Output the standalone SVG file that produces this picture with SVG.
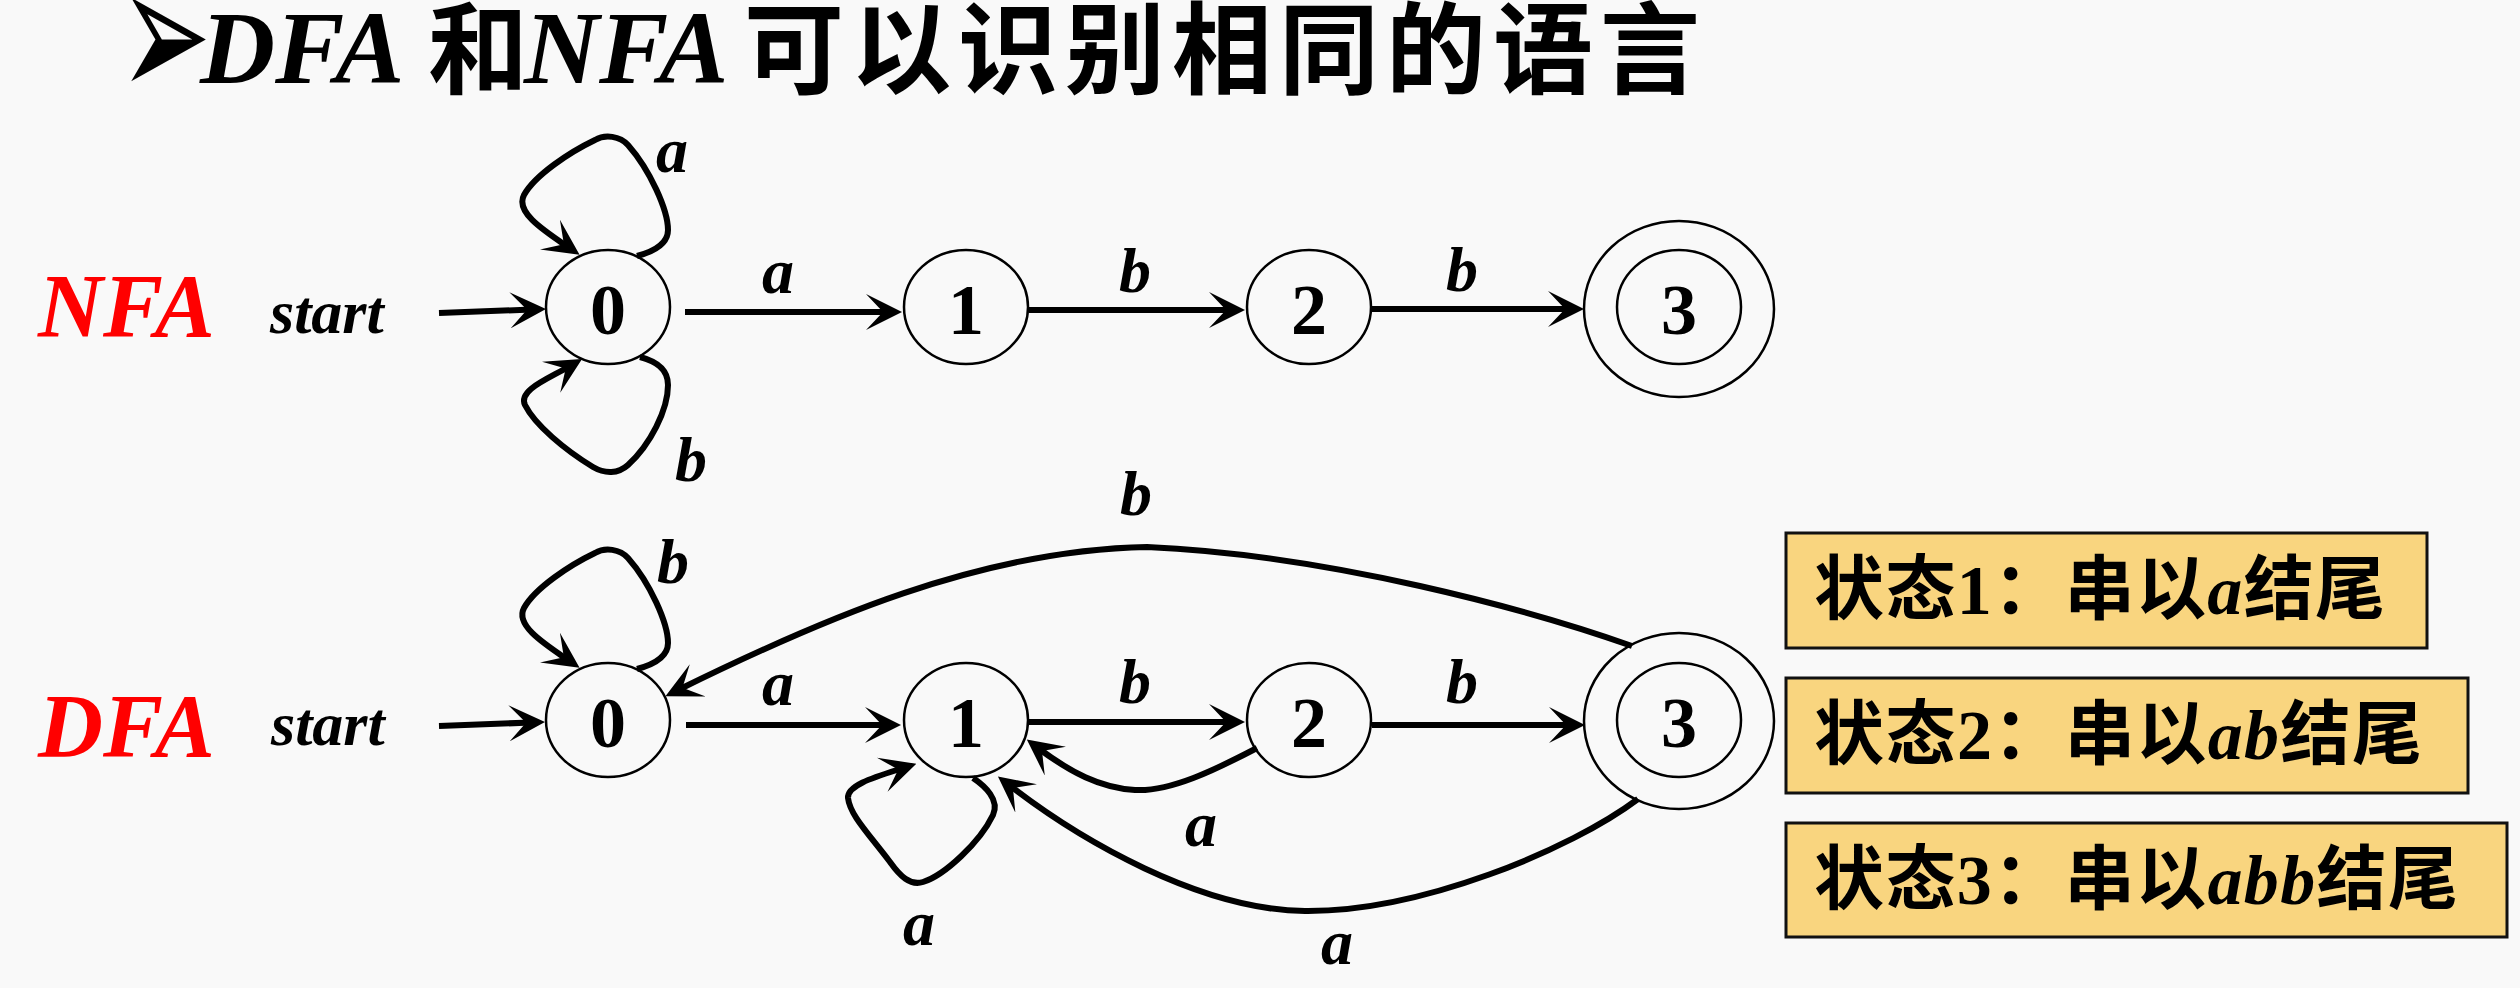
<svg xmlns="http://www.w3.org/2000/svg" width="2520" height="988" viewBox="0 0 2520 988">
<defs>
<marker id="ah" viewBox="0 0 36 36" markerWidth="36" markerHeight="36" refX="22" refY="18" orient="auto" markerUnits="userSpaceOnUse"><path d="M36,18 L0,0 L17,18 L0,36 Z" fill="#000"/></marker>
</defs>
<style>
.st{fill:none;stroke:#000;stroke-width:2.5}
.ed{fill:none;stroke:#000;stroke-width:6;marker-end:url(#ah)}
.lb{font-family:"Liberation Serif","Times New Roman",serif;font-style:italic;font-weight:bold;font-size:64px;text-anchor:middle;fill:#000}
.dg{font-family:"Liberation Serif","Times New Roman",serif;font-weight:bold;font-size:72px;text-anchor:middle;fill:#000}
.cj{font-family:"Noto Sans CJK SC",sans-serif;font-weight:bold}
.it{font-family:"Liberation Serif","Times New Roman",serif;font-style:italic;font-weight:bold}
.rm{font-family:"Liberation Serif","Times New Roman",serif;font-weight:bold}
.box{fill:#F9D57F;stroke:#111;stroke-width:3}
.red{fill:#FF0000;font-size:90px}
.start{font-size:62px;fill:#000}
.bt{font-size:70px;fill:#000}
.tt{fill:#000}
</style>
<rect x="0" y="0" width="2520" height="988" fill="#F9F9F9"/>

<g id="title">
<text class="tt" font-family="DejaVu Sans, sans-serif" font-size="100" transform="translate(119,99) scale(1.1,1.9)">➢</text>
<text class="tt it" x="200" y="83" font-size="104">DFA</text>
<text class="tt cj" x="428" y="86" font-size="100">和</text>
<text class="tt it" x="524" y="83" font-size="104">NFA</text>
<text class="tt cj" x="744" y="86" font-size="100" letter-spacing="7">可以识别相同的语言</text>
</g>

<g id="label-nfa"><text x="38" y="337" class="it red">NFA</text></g>
<g id="label-dfa"><text x="38" y="757" class="it red">DFA</text></g>
<g id="nfa-start"><text x="270" y="333" class="it start">start</text></g>
<g id="dfa-start"><text x="271" y="745" class="it start">start</text></g>

<g id="nfa-s0"><ellipse class="st" cx="608" cy="307" rx="62" ry="57"/><text class="dg" x="608" y="334">0</text></g>
<g id="nfa-s1"><ellipse class="st" cx="966" cy="307" rx="62" ry="57"/><text class="dg" x="966" y="334">1</text></g>
<g id="nfa-s2"><ellipse class="st" cx="1309" cy="307" rx="62" ry="57"/><text class="dg" x="1309" y="334">2</text></g>
<g id="nfa-s3"><ellipse class="st" cx="1679" cy="309" rx="95" ry="88"/><ellipse class="st" cx="1679" cy="307" rx="62" ry="57"/><text class="dg" x="1679" y="334">3</text></g>

<g id="dfa-s0"><ellipse class="st" cx="608" cy="720" rx="62" ry="57"/><text class="dg" x="608" y="747">0</text></g>
<g id="dfa-s1"><ellipse class="st" cx="966" cy="720" rx="62" ry="57"/><text class="dg" x="966" y="747">1</text></g>
<g id="dfa-s2"><ellipse class="st" cx="1309" cy="720" rx="62" ry="57"/><text class="dg" x="1309" y="747">2</text></g>
<g id="dfa-s3"><ellipse class="st" cx="1679" cy="721" rx="95" ry="88"/><ellipse class="st" cx="1679" cy="720" rx="62" ry="57"/><text class="dg" x="1679" y="747">3</text></g>

<g id="connectors">
<path class="ed" d="M439,313 L532,309.5"/>
<path class="ed" d="M685,312 L888,312"/>
<path class="ed" d="M1029,310 L1231,310"/>
<path class="ed" d="M1372,309 L1570,309"/>
<path class="ed" d="M637,256 C652,252 668,245 668,230 C668,210 650,170 628,145 C620,136 605,134 595,140 C570,152 535,175 524,195 C515,212 543,230 568,247"/>
<path class="ed" d="M640,357 C655,361 668,368 668,385 C668,410 650,445 628,465 C618,474 605,474 593,467 C565,450 535,425 525,405 C518,390 548,379 570,366"/>
<text class="lb" x="672" y="172">a</text>
<text class="lb" x="691" y="481">b</text>
<text class="lb" x="778" y="293">a</text>
<text class="lb" x="1135" y="292">b</text>
<text class="lb" x="1462" y="291">b</text>
<path class="ed" d="M439,726 L531,722.5"/>
<path class="ed" d="M686,725 L887,725"/>
<path class="ed" d="M1029,722 L1231,722"/>
<path class="ed" d="M1372,725 L1571,725"/>
<path class="ed" d="M637,669 C652,665 668,658 668,643 C668,623 650,583 628,558 C620,549 605,547 595,553 C570,565 535,588 524,608 C515,625 543,643 568,660"/>
<path class="ed" d="M973,778 C985,786 1000,800 993,815 C980,842 945,875 923,882 C910,886 900,876 890,862 C868,833 850,815 848,798 C847,785 875,777 903,768"/>
<path class="ed" d="M1257,748 C1215,770 1170,792 1135,790 C1100,788 1070,772 1038,748"/>
<path class="ed" d="M1638,799 C1570,850 1420,912 1305,911 C1200,910 1080,840 1009,785"/>
<path class="ed" d="M1632,646 C1530,610 1330,555 1147,547 C980,550 820,620 678,690"/>
<text class="lb" x="673" y="583">b</text>
<text class="lb" x="778" y="705">a</text>
<text class="lb" x="1135" y="703">b</text>
<text class="lb" x="1462" y="703">b</text>
<text class="lb" x="1136" y="515">b</text>
<text class="lb" x="1201" y="846">a</text>
<text class="lb" x="919" y="945">a</text>
<text class="lb" x="1337" y="964">a</text>
</g>

<g id="note1"><rect class="box" x="1786" y="533" width="641" height="115"/><text x="1814" y="614" class="bt" textLength="571" lengthAdjust="spacing"><tspan class="cj">状态</tspan><tspan class="rm">1</tspan><tspan class="cj">：串以</tspan><tspan class="it">a</tspan><tspan class="cj">结尾</tspan></text></g>
<g id="note2"><rect class="box" x="1786" y="678" width="682" height="115"/><text x="1814" y="759" class="bt" textLength="608" lengthAdjust="spacing"><tspan class="cj">状态</tspan><tspan class="rm">2</tspan><tspan class="cj">：串以</tspan><tspan class="it">ab</tspan><tspan class="cj">结尾</tspan></text></g>
<g id="note3"><rect class="box" x="1786" y="823" width="721" height="114"/><text x="1814" y="904" class="bt" textLength="644" lengthAdjust="spacing"><tspan class="cj">状态</tspan><tspan class="rm">3</tspan><tspan class="cj">：串以</tspan><tspan class="it">abb</tspan><tspan class="cj">结尾</tspan></text></g>
</svg>
